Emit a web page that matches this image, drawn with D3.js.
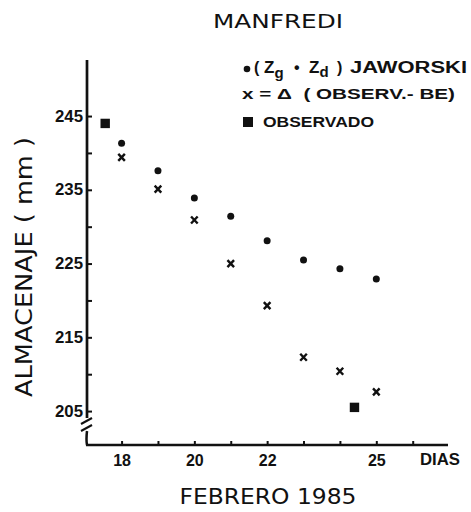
<!DOCTYPE html>
<html>
<head>
<meta charset="utf-8">
<script src="https://cdn.jsdelivr.net/npm/d3@7"></script>
<style>
  html, body { margin: 0; padding: 0; background: #fff; }
  svg { display: block; }
  text { fill: #111; }
</style>
</head>
<body>
<svg id="chart" width="471" height="512"></svg>
<script>
// ---- data ----
const days = [18, 19, 20, 21, 22, 23, 24, 25];
const jaworski = [241.3, 237.6, 233.9, 231.4, 228.1, 225.5, 224.3, 222.9];
const deltaObsBE = [239.4, 235.1, 230.9, 225.0, 219.3, 212.3, 210.4, 207.6];
const obsDays = [17.55, 24.4];
const observado = [244.0, 205.5];
const xTickValues = [18, 19, 20, 21, 22, 23, 24, 25, 26];
const xTickLabels = { 18: "18", 20: "20", 22: "22", 25: "25" };
const yMajorTicks = [205, 215, 225, 235, 245];
const yMinorTicks = [210, 220, 230, 240];
const titleText = "MANFREDI";
const xTitle = "FEBRERO 1985";
const yTitle = "ALMACENAJE ( mm )";

// ---- layout ----
const svg = d3.select("#chart");
const ink = "#111";
const x = d3.scaleLinear().domain([17.05, 26.97]).range([87, 448]);
const y = d3.scaleLinear().domain([200.4, 252.6]).range([445, 60]);
const x0 = x.range()[0], yBase = y.range()[0];

// title
svg.append("text").attr("x", 278).attr("y", 28).attr("text-anchor", "middle")
  .attr("font-family", "DejaVu Sans, sans-serif").attr("font-size", 20)
  .attr("textLength", 130).attr("lengthAdjust", "spacingAndGlyphs")
  .text(titleText);

// y axis (ticks pointing inward, labels at left)
const yAxisTicks = d3.axisRight(y).tickValues(yMajorTicks.concat(yMinorTicks)).tickSize(5).tickFormat("");
const gy = svg.append("g").attr("transform", `translate(${x0},0)`).call(yAxisTicks);
gy.select(".domain").remove();
gy.selectAll(".tick line").attr("stroke", ink).attr("stroke-width", 2);

const yAxisLabels = d3.axisLeft(y).tickValues(yMajorTicks).tickSize(0).tickPadding(4);
const gyl = svg.append("g").attr("transform", `translate(${x0},0)`).call(yAxisLabels);
gyl.select(".domain").remove();
gyl.selectAll(".tick text").attr("font-family", "Liberation Sans, Arial, sans-serif")
  .attr("font-weight", "bold").attr("font-size", 16).attr("fill", ink)
  .attr("textLength", 28).attr("lengthAdjust", "spacingAndGlyphs");

// y axis line with break
svg.append("line").attr("x1", x0).attr("x2", x0).attr("y1", y.range()[1]).attr("y2", 418)
  .attr("stroke", ink).attr("stroke-width", 2.7);
svg.append("path").attr("d", `M${x0},431 Q${x0-1},440 ${x0},${yBase}`)
  .attr("fill", "none").attr("stroke", ink).attr("stroke-width", 2.5);
svg.append("line").attr("x1", x0 - 6).attr("y1", 424).attr("x2", x0 + 5).attr("y2", 418)
  .attr("stroke", ink).attr("stroke-width", 2);
svg.append("line").attr("x1", x0 - 6).attr("y1", 431).attr("x2", x0 + 5).attr("y2", 425)
  .attr("stroke", ink).attr("stroke-width", 2);

// x axis
const xAxis = d3.axisTop(x).tickValues(xTickValues).tickSize(4).tickFormat("");
const gx = svg.append("g").attr("transform", `translate(0,${yBase})`).call(xAxis);
gx.select(".domain").remove();
gx.selectAll(".tick line").attr("stroke", ink).attr("stroke-width", 2);
svg.append("line").attr("x1", x0 - 1).attr("x2", x.range()[1]).attr("y1", yBase).attr("y2", yBase)
  .attr("stroke", ink).attr("stroke-width", 2.4);

const xAxisLabels = d3.axisBottom(x).tickValues(Object.keys(xTickLabels).map(Number))
  .tickSize(0).tickPadding(10).tickFormat(d => xTickLabels[d]);
const gxl = svg.append("g").attr("transform", `translate(0,${yBase})`).call(xAxisLabels);
gxl.select(".domain").remove();
gxl.selectAll(".tick text").attr("font-family", "Liberation Sans, Arial, sans-serif")
  .attr("font-weight", "bold").attr("font-size", 16).attr("fill", ink);

svg.append("text").attr("x", 440).attr("y", 465).attr("text-anchor", "middle")
  .attr("font-family", "Liberation Sans, Arial, sans-serif").attr("font-weight", "bold")
  .attr("font-size", 16).attr("textLength", 40).attr("lengthAdjust", "spacingAndGlyphs").text("DIAS");

// axis titles
svg.append("text").attr("x", 268).attr("y", 504).attr("text-anchor", "middle")
  .attr("font-family", "DejaVu Sans, sans-serif").attr("font-size", 22)
  .attr("textLength", 177).attr("lengthAdjust", "spacingAndGlyphs").text(xTitle);
svg.append("text").attr("transform", "translate(32,267) rotate(-90)").attr("text-anchor", "middle")
  .attr("font-family", "DejaVu Sans, sans-serif").attr("font-size", 23)
  .attr("textLength", 260).attr("lengthAdjust", "spacingAndGlyphs").text(yTitle);

// marks
const crossPath = "M-3.3,-3.5 L3.3,3.5 M3.3,-3.5 L-3.3,3.5";
svg.append("g").selectAll("circle").data(days.map((d, i) => [d, jaworski[i]])).join("circle")
  .attr("cx", d => x(d[0])).attr("cy", d => y(d[1])).attr("r", 3.5).attr("fill", ink);
svg.append("g").selectAll("path").data(days.map((d, i) => [d, deltaObsBE[i]])).join("path")
  .attr("transform", d => `translate(${x(d[0])},${y(d[1])})`).attr("d", crossPath)
  .attr("stroke", ink).attr("stroke-width", 2.4).attr("fill", "none");
svg.append("g").selectAll("rect").data(obsDays.map((d, i) => [d, observado[i]])).join("rect")
  .attr("x", d => x(d[0]) - 4.7).attr("y", d => y(d[1]) - 4.7).attr("width", 9.4).attr("height", 9.4)
  .attr("fill", ink);

// legend
const lf = "Liberation Sans, Arial, sans-serif";
svg.append("circle").attr("cx", 247).attr("cy", 69).attr("r", 3.3).attr("fill", ink);
const l1 = svg.append("text").attr("x", 254).attr("y", 73).attr("font-family", lf)
  .attr("font-weight", "bold").attr("font-size", 16).style("white-space", "pre");
l1.append("tspan").attr("x", 254).text("(");
l1.append("tspan").attr("x", 264).attr("font-size", 17).text("Z");
l1.append("tspan").attr("dy", 5).attr("font-size", 15).text("g");
l1.append("tspan").attr("x", 294).attr("dy", -5).text("•");
l1.append("tspan").attr("x", 309).attr("font-size", 17).text("Z");
l1.append("tspan").attr("dy", 4).attr("font-size", 15).text("d");
l1.append("tspan").attr("x", 337).attr("dy", -4).text(")");
l1.append("tspan").attr("x", 350).attr("textLength", 117).attr("lengthAdjust", "spacingAndGlyphs").text("JAWORSKI");

svg.append("text").attr("x", 242).attr("y", 99).attr("font-family", lf)
  .attr("font-weight", "bold").attr("font-size", 15).style("white-space", "pre")
  .attr("textLength", 213).attr("lengthAdjust", "spacingAndGlyphs")
  .text("x = Δ  ( OBSERV.- BE)");

svg.append("rect").attr("x", 243).attr("y", 117).attr("width", 10).attr("height", 10).attr("fill", ink);
svg.append("text").attr("x", 263).attr("y", 127).attr("font-family", lf)
  .attr("font-weight", "bold").attr("font-size", 15)
  .attr("textLength", 111).attr("lengthAdjust", "spacingAndGlyphs").text("OBSERVADO");
</script>
</body>
</html>
